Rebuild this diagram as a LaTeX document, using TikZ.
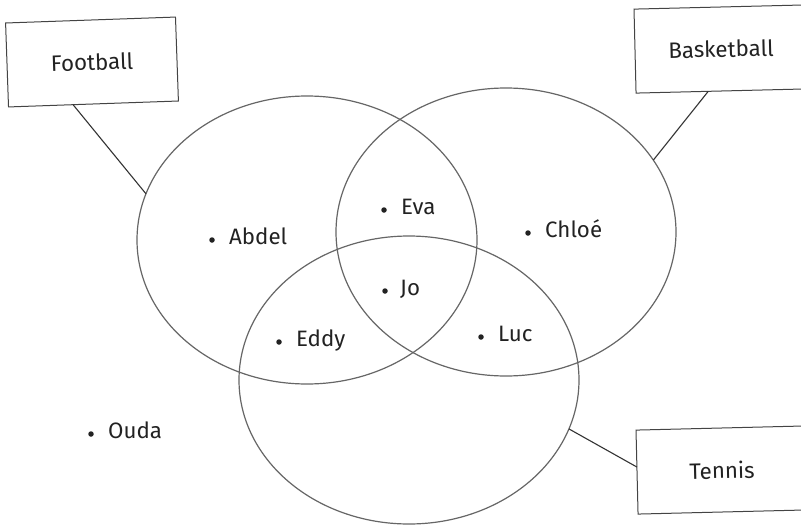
\documentclass[tikz,border=0pt]{standalone}
\usepackage{fontspec}
\setmainfont{Fira Sans}
\usetikzlibrary{shapes.geometric,calc}
\definecolor{ringgray}{HTML}{666666}
\definecolor{boxgray}{HTML}{444444}
\definecolor{linegray}{HTML}{333333}
\definecolor{inkgray}{HTML}{222222}
\begin{document}
\begin{tikzpicture}[x=1pt,y=-1pt,
  setring/.style={ellipse, draw=ringgray, line width=1.2pt, inner sep=0pt, outer sep=0pt,
    minimum width=340pt, minimum height=288pt},
  tagbox/.style={rectangle, draw=boxgray, line width=1pt, inner sep=0pt, outer sep=0pt,
    minimum height=84pt, text=inkgray, font=\fontsize{22.3}{26}\selectfont},
  member/.style={circle, fill=inkgray, inner sep=0pt, minimum size=5.5pt},
  pname/.style={anchor=base west, inner sep=0pt, text=inkgray, font=\fontsize{22.3}{26}\selectfont},
  link/.style={draw=linegray, line width=1.1pt}]
\useasboundingbox (0,0) rectangle (801,525);
\clip (0,0) rectangle (801,525);
\fill[white] (0,0) rectangle (801,525);

% the three sets
\node[setring] (foot) at (307,240) {};
\node[setring] (bask) at (506,232) {};
\node[setring] (tenn) at (409,380) {};

% set labels
\node[tagbox, minimum width=170pt, rotate=2] (footbox) at (92,62) {Football};
\node[tagbox, minimum width=172pt, rotate=1.4] (baskbox) at (721,49) {Basketball};
\node[tagbox, minimum width=170pt, rotate=1.4] (tennbox) at (722,470) {Tennis};

% label connectors
\draw[link] ($(footbox.south west)!0.38!(footbox.south east)$) -- (foot.164.5);
\draw[link] ($(baskbox.south west)!0.42!(baskbox.south east)$) -- (bask.26.4);
\draw[link] (tenn.343.4) -- ($(tennbox.south west)!0.56!(tennbox.north west)$);

% members
\node[member] (abdel) at (212,240) {};
\node[pname] at ($(abdel)+(17,4)$) {Abdel};
\node[member] (eva) at (384,210) {};
\node[pname] at ($(eva)+(17,4)$) {Eva};
\node[member] (chloe) at (528,233) {};
\node[pname] at ($(chloe)+(17,4)$) {Chloé};
\node[member] (jo) at (385,291) {};
\node[pname] at ($(jo)+(15,4)$) {Jo};
\node[member] (eddy) at (279,342) {};
\node[pname] at ($(eddy)+(17,4)$) {Eddy};
\node[member] (luc) at (481,337) {};
\node[pname] at ($(luc)+(17,4)$) {Luc};
\node[member] (ouda) at (91,434) {};
\node[pname] at ($(ouda)+(17,4)$) {Ouda};
\end{tikzpicture}
\end{document}
